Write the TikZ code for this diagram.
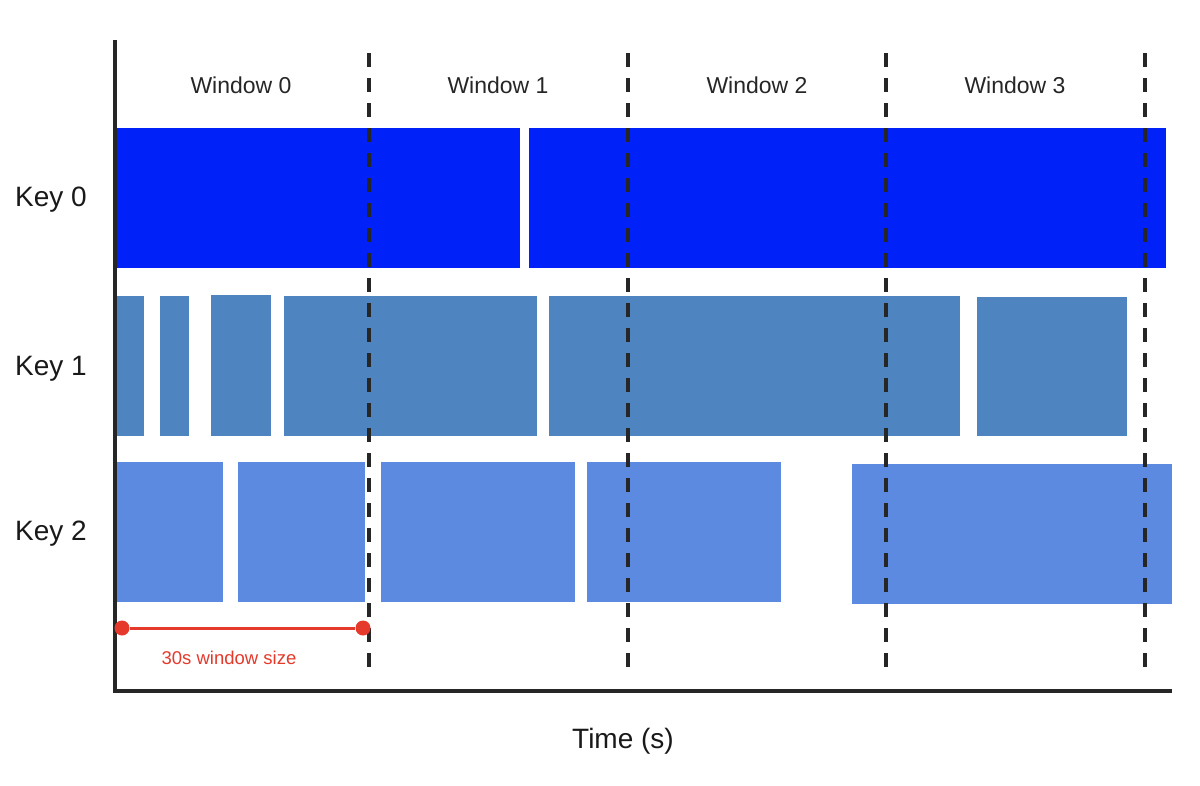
\documentclass[tikz,border=0pt]{standalone}
\usepackage{fontspec}
\setmainfont{Liberation Sans}
\definecolor{keyzero}{HTML}{0022F8}
\definecolor{keyone}{HTML}{4E84BF}
\definecolor{keytwo}{HTML}{5B8AE0}
\definecolor{redmark}{HTML}{E5392B}
\begin{document}
\begin{tikzpicture}[x=1pt,y=-1pt,
  barzero/.style={fill=keyzero},
  barone/.style={fill=keyone},
  bartwo/.style={fill=keytwo},
  axisline/.style={line width=3.2pt,black!85},
  winline/.style={line width=3.6pt,black!85,dash pattern=on 14pt off 11pt},
  winlabel/.style={anchor=base,font=\fontsize{23}{27}\selectfont,text=black!85},
  keylabel/.style={anchor=base,font=\fontsize{28}{32}\selectfont,text=black!90},
  redlabel/.style={anchor=base,font=\fontsize{18.5}{22}\selectfont,text=redmark},
  sizeline/.style={line width=3pt,redmark},
  dot/.style={circle,fill=redmark,inner sep=0pt,minimum size=15pt}
]
\useasboundingbox (0,0) rectangle (1200,785);
% Key 0 bars
\fill[barzero] (113,128) rectangle (520,268);
\fill[barzero] (529,128) rectangle (1166,268);
% Key 1 bars
\fill[barone] (115,296) rectangle (144,436);
\fill[barone] (160,296) rectangle (189,436);
\fill[barone] (211,295) rectangle (271,436);
\fill[barone] (284,296) rectangle (537,436);
\fill[barone] (549,296) rectangle (960,436);
\fill[barone] (977,297) rectangle (1127,436);
% Key 2 bars
\fill[bartwo] (115,462) rectangle (223,602);
\fill[bartwo] (238,462) rectangle (365,602);
\fill[bartwo] (381,462) rectangle (575,602);
\fill[bartwo] (587,462) rectangle (781,602);
\fill[bartwo] (852,464) rectangle (1172,604);
% axes
\coordinate (ytop) at (115,40);
\coordinate (origin) at (115,691);
\coordinate (xend) at (1172,691);
\draw[axisline] (ytop) -- (origin) -- (xend);
% window boundaries
\foreach \i/\x in {1/369,2/628,3/886,4/1145}{
  \coordinate (wt\i) at (\x,53);
  \coordinate (wb\i) at (\x,670);
  \draw[winline] (wt\i) -- (wb\i);
}
% window labels
\node[winlabel] (w0) at (241,93) {Window 0};
\node[winlabel] (w1) at (498,93) {Window 1};
\node[winlabel] (w2) at (757,93) {Window 2};
\node[winlabel] (w3) at (1015,93) {Window 3};
% key labels
\node[keylabel] (k0) at (51,206) {Key 0};
\node[keylabel] (k1) at (51,375) {Key 1};
\node[keylabel] (k2) at (51,540) {Key 2};
% window size marker
\node[dot] (da) at (122,628) {};
\node[dot] (db) at (363,628) {};
\draw[sizeline] (da) -- (db);
\node[redlabel] (ws) at (229,664) {30s window size};
% x axis label
\node[keylabel] (tl) at (623,748) {Time (s)};
\end{tikzpicture}
\end{document}
